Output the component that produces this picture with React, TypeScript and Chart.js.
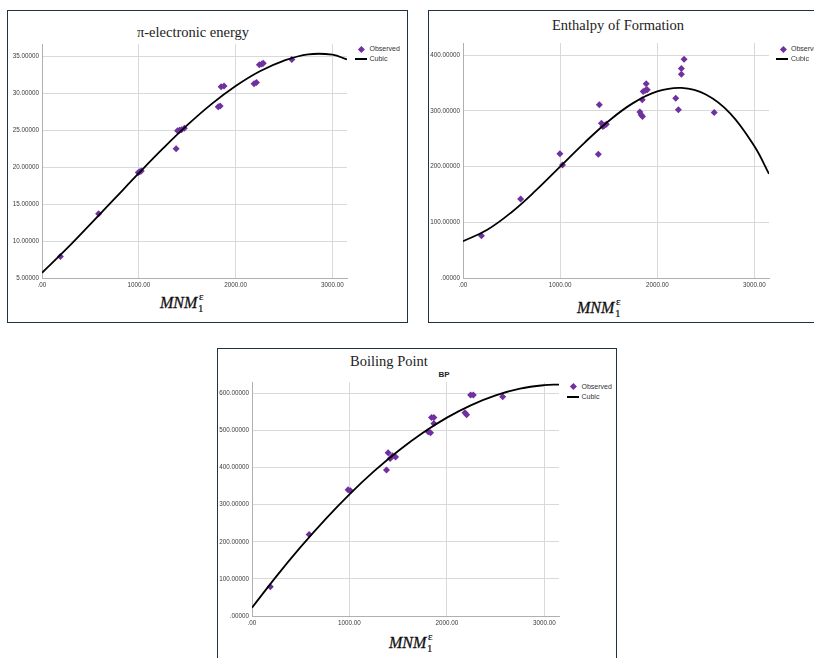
import React, { useEffect, useRef } from 'react';
import { Chart, registerables } from 'chart.js';
Chart.register(...registerables);

// ---------- shared axis data ----------
const X_TICKS = [0, 1000, 2000, 3000];
const X_MAX = 3150;
const CURVE_X = [0, 250, 500, 750, 1000, 1250, 1500, 1750, 2000, 2250, 2500, 2750, 3000, 3150];

// ---------- π-electronic energy ----------
const PI_OBS_X = [190, 585, 995, 1010, 1025, 1385, 1400, 1420, 1440, 1470, 1820, 1840, 1850, 1880, 2190, 2215, 2245, 2270, 2285, 2580];
const PI_OBS_Y = [7.9, 13.7, 19.3, 19.4, 19.5, 22.5, 24.95, 25.0, 25.1, 25.3, 28.2, 28.3, 30.9, 31.0, 31.3, 31.5, 33.9, 34.0, 34.1, 34.6];
const PI_CUBIC_Y = [5.7, 8.9, 12.3, 15.75, 19.2, 22.55, 25.7, 28.55, 31.0, 33.0, 34.45, 35.3, 35.25, 34.6];
const PI_Y_TICKS = [5, 10, 15, 20, 25, 30, 35];

// ---------- Enthalpy of Formation ----------
const HF_OBS_X = [190, 593, 997, 1024, 1393, 1403, 1425, 1440, 1455, 1475, 1821, 1834, 1848, 1845, 1855, 1879, 1897, 1886, 2190, 2217, 2248, 2248, 2276, 2586];
const HF_OBS_Y = [76, 142, 223, 203, 222, 311, 278, 272, 274, 276, 298, 293, 290, 320, 335, 337, 338, 349, 323, 302, 376, 366, 393, 297];
const HF_CUBIC_Y = [66, 86.6, 118.2, 157.2, 200, 242.8, 282, 314, 335, 341.4, 329.6, 295.8, 236.5, 187];
const HF_Y_TICKS = [0, 100, 200, 300, 400];

// ---------- Boiling Point ----------
const BP_OBS_X = [188, 586, 986, 1010, 1380, 1397, 1418, 1442, 1473, 1808, 1832, 1842, 1866, 1866, 2185, 2202, 2243, 2271, 2572];
const BP_OBS_Y = [79, 220, 340.5, 338, 393.5, 440, 425, 432, 429, 497, 494, 535, 535.5, 519, 548, 543, 596, 596, 591];
const BP_CUBIC_Y = [22.5, 107, 186.3, 260, 328, 389.8, 445.1, 493.6, 535, 568.8, 595, 613, 622.5, 624];
const BP_Y_TICKS = [0, 100, 200, 300, 400, 500, 600];

const PURPLE = '#7030a0';
const BORDER = '#1f3142';
const SERIF = '"Liberation Serif", "DejaVu Serif", serif';
const SANS = '"Liberation Sans", Arial, sans-serif';

type Plot = { left: number; top: number; right: number; bottom: number };

const Y_W = 40;
const X_H = 16;
const PAD = 8;

function ScatterCubic(props: {
  plot: Plot; obsX: number[]; obsY: number[]; cubicY: number[];
  yMin: number; yMax: number; yTicks: number[];
}) {
  const ref = useRef<HTMLCanvasElement | null>(null);
  const { plot, obsX, obsY, cubicY, yMin, yMax, yTicks } = props;
  const cLeft = plot.left - Y_W;
  const cTop = plot.top - PAD;
  const cW = plot.right + PAD - cLeft;
  const cH = plot.bottom + X_H - cTop;

  useEffect(() => {
    if (!ref.current) return;
    const chart = new Chart(ref.current, {
      type: 'scatter',
      data: {
        datasets: [
          {
            label: 'Observed',
            data: obsX.map((x, i) => ({ x, y: obsY[i] })),
            pointStyle: 'rectRot',
            pointRadius: 3.5,
            backgroundColor: PURPLE,
            borderColor: PURPLE,
            borderWidth: 0,
            order: 2,
          },
          {
            label: 'Cubic',
            data: CURVE_X.map((x, i) => ({ x, y: cubicY[i] })),
            showLine: true,
            pointRadius: 0,
            borderColor: '#000',
            borderWidth: 1.8,
            tension: 0.4,
            order: 1,
          } as any,
        ],
      },
      options: {
        animation: false,
        responsive: false,
        maintainAspectRatio: false,
        layout: { padding: { top: PAD, right: PAD, left: 0, bottom: 0 } },
        plugins: { legend: { display: false }, tooltip: { enabled: false }, title: { display: false } },
        scales: {
          x: {
            type: 'linear',
            min: 0,
            max: X_MAX,
            afterBuildTicks: (s: any) => { s.ticks = X_TICKS.map((v) => ({ value: v })); },
            afterFit: (s: any) => { s.height = X_H; },
            grid: { color: '#d9d9d9', lineWidth: 1, drawTicks: false, tickLength: 0 },
            border: { display: true, color: '#b0b0b0', width: 1 },
            ticks: {
              padding: 3,
              color: '#3a3a3a',
              font: { family: SANS, size: 6.3 },
              maxRotation: 0,
              autoSkip: false,
              callback: (v: any) => (Number(v) === 0 ? '.00' : Number(v).toFixed(2)),
            },
          },
          y: {
            type: 'linear',
            min: yMin,
            max: yMax,
            afterBuildTicks: (s: any) => { s.ticks = yTicks.map((v) => ({ value: v })); },
            afterFit: (s: any) => { s.width = Y_W; },
            grid: { color: '#d9d9d9', lineWidth: 1, drawTicks: false, tickLength: 0 },
            border: { display: true, color: '#b0b0b0', width: 1 },
            ticks: {
              padding: 3,
              color: '#3a3a3a',
              font: { family: SANS, size: 6.3 },
              autoSkip: false,
              callback: (v: any) => (Number(v) === 0 ? '.00000' : Number(v).toFixed(5)),
            },
          },
        },
      },
    });
    return () => chart.destroy();
  }, []);

  return (
    <canvas
      ref={ref}
      width={cW}
      height={cH}
      style={{ position: 'absolute', left: cLeft, top: cTop, width: cW, height: cH }}
    />
  );
}

function Legend(props: { x: number; y: number }) {
  const { x, y } = props;
  const txt: React.CSSProperties = {
    position: 'absolute', font: `7px ${SANS}`, color: '#333', lineHeight: '8px', whiteSpace: 'nowrap',
  };
  return (
    <>
      <div style={{ position: 'absolute', left: x - 2.4, top: y - 2.4, width: 4.8, height: 4.8, background: PURPLE, transform: 'rotate(45deg)' }} />
      <div style={{ ...txt, left: x + 8, top: y - 4 }}>Observed</div>
      <div style={{ position: 'absolute', left: x - 7, top: y + 9, width: 12, height: 2, background: '#000' }} />
      <div style={{ ...txt, left: x + 8, top: y + 6 }}>Cubic</div>
    </>
  );
}

function AxisTitle(props: { x: number; capTop: number }) {
  const { x, capTop } = props;
  return (
    <div style={{ position: 'absolute', left: x, top: capTop - 3, font: `italic 16px ${SERIF}`, lineHeight: '16px', color: '#111', whiteSpace: 'nowrap', WebkitTextStroke: '0.3px #111' }}>
      MNM
      <span style={{ position: 'absolute', left: 39, top: -4, font: `11px ${SERIF}`, lineHeight: '11px', WebkitTextStroke: '0.2px #111' }}>ε</span>
      <span style={{ position: 'absolute', left: 38, top: 8, font: `11px ${SERIF}`, lineHeight: '11px', WebkitTextStroke: '0.2px #111' }}>1</span>
    </div>
  );
}

function Title(props: { cx: number; cy: number; text: string }) {
  return (
    <div style={{ position: 'absolute', left: props.cx - 100, width: 200, top: props.cy - 9, textAlign: 'center', font: `14.5px ${SERIF}`, lineHeight: '18px', color: '#222', whiteSpace: 'nowrap' }}>
      {props.text}
    </div>
  );
}

export default function App() {
  return (
    <div style={{ position: 'fixed', left: 0, top: 0, width: 814, height: 658, overflow: 'hidden', background: '#fff' }}>
      {/* Panel 1 */}
      <div style={{ position: 'absolute', left: 7, top: 10, width: 399, height: 311, border: `1.5px solid ${BORDER}` }} />
      <Title cx={193} cy={31.5} text="π-electronic energy" />
      <ScatterCubic plot={{ left: 42, top: 44, right: 347, bottom: 278 }} obsX={PI_OBS_X} obsY={PI_OBS_Y} cubicY={PI_CUBIC_Y} yMin={5} yMax={36.7} yTicks={PI_Y_TICKS} />
      <Legend x={361.5} y={49} />
      <AxisTitle x={160} capTop={298} />

      {/* Panel 2 */}
      <div style={{ position: 'absolute', left: 428, top: 10, width: 420, height: 311, border: `1.5px solid ${BORDER}` }} />
      <Title cx={618} cy={25} text="Enthalpy of Formation" />
      <ScatterCubic plot={{ left: 463, top: 43, right: 769, bottom: 278 }} obsX={HF_OBS_X} obsY={HF_OBS_Y} cubicY={HF_CUBIC_Y} yMin={0} yMax={422} yTicks={HF_Y_TICKS} />
      <Legend x={783} y={49} />
      <AxisTitle x={577} capTop={303} />

      {/* Panel 3 */}
      <div style={{ position: 'absolute', left: 217, top: 348, width: 398, height: 330, border: `1.5px solid ${BORDER}` }} />
      <Title cx={389} cy={361} text="Boiling Point" />
      <div style={{ position: 'absolute', left: 424, width: 40, top: 369.5, textAlign: 'center', font: `bold 8px ${SANS}`, lineHeight: '10px', color: '#222' }}>BP</div>
      <ScatterCubic plot={{ left: 252, top: 381.5, right: 559, bottom: 616 }} obsX={BP_OBS_X} obsY={BP_OBS_Y} cubicY={BP_CUBIC_Y} yMin={0} yMax={631} yTicks={BP_Y_TICKS} />
      <Legend x={573.5} y={386.5} />
      <AxisTitle x={389} capTop={638} />
    </div>
  );
}
